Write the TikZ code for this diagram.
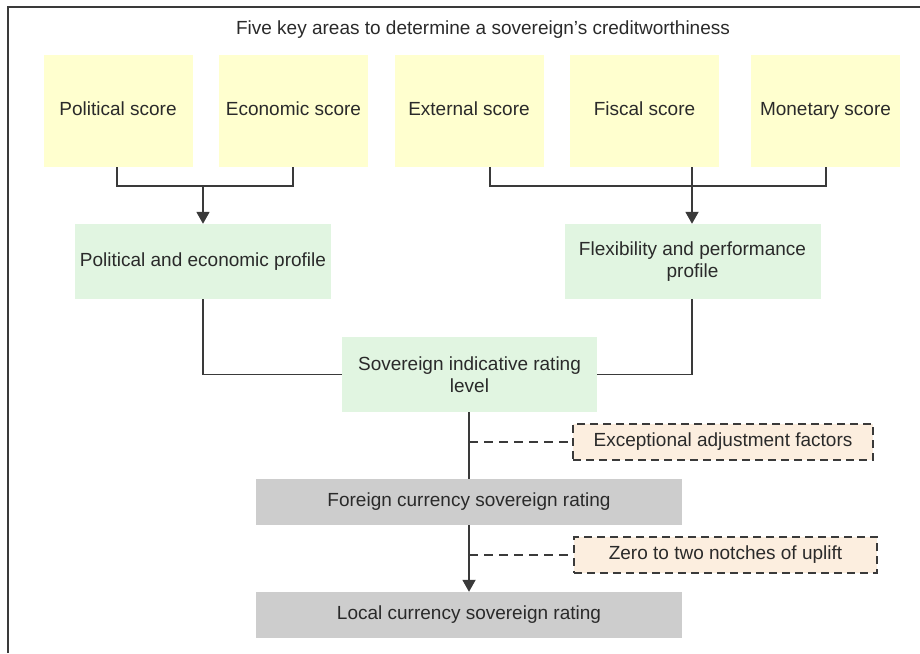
\documentclass[tikz,border=0pt]{standalone}
\usepackage{fontspec}
\setmainfont{Liberation Sans}
\usetikzlibrary{arrows.meta}
\definecolor{scorefill}{HTML}{FFFFCF}
\definecolor{profilefill}{HTML}{E1F5E1}
\definecolor{ratingfill}{HTML}{CDCDCD}
\definecolor{adjfill}{HTML}{FCEEDF}
\definecolor{ink}{HTML}{2A2A2A}
\definecolor{wire}{HTML}{3A3A3A}
\begin{document}
\begin{tikzpicture}[x=1pt,y=-1pt,
  every node/.style={font=\fontsize{19}{22}\selectfont, text=ink, inner sep=0pt, align=center},
  score/.style={fill=scorefill, minimum width=149pt, minimum height=112pt, text height=0.95em, text depth=0pt},
  profile/.style={fill=profilefill, minimum width=256pt, minimum height=75pt},
  rating/.style={fill=ratingfill, minimum width=426pt, minimum height=46pt},
  adjust/.style={fill=adjfill, draw=wire, line width=1.6pt, dash pattern=on 8pt off 5pt, minimum height=36pt},
  wireline/.style={draw=wire, line width=1.8pt},
  arrowline/.style={wireline, -{Triangle[width=13pt,length=12pt]}},
  dashline/.style={draw=wire, line width=1.6pt, dash pattern=on 9pt off 6pt}]
\useasboundingbox (0,0) rectangle (920,653);
% open frame: top and left edges
\draw[draw=wire, line width=1.6pt] (8,653) -- (8,7) -- (920,7);

\node (title) at (483,30) {Five key areas to determine a sovereign's creditworthiness};

% the five scores
\node[score] (pol) at (118,111) {Political score};
\node[score] (eco) at (293.5,111) {Economic score};
\node[score] (ext) at (469,111) {External score};
\node[score] (fis) at (644.5,111) {Fiscal score};
\node[score] (mon) at (825.5,111) {Monetary score};

% the two profiles
\node[profile] (pep) at (203,261.5) {Political and economic profile};
\node[profile] (fpp) at (692.5,261.5) {Flexibility and performance\\profile};

% indicative level and final ratings
\node[profile, minimum width=255pt] (sir) at (469.5,374.5) {Sovereign indicative rating\\level};
\node[rating] (fcr) at (469,502) {Foreign currency sovereign rating};
\node[rating] (lcr) at (469,615) {Local currency sovereign rating};

% adjustments
\node[adjust, minimum width=300pt] (exf) at (723,442) {Exceptional adjustment factors};
\node[adjust, minimum width=303pt] (ztn) at (725.5,555) {Zero to two notches of uplift};

% scores into profiles
\coordinate (m1) at (203,186);
\coordinate (m2) at (692,186);
\draw[wireline] (pol.south -| 117,0) |- (m1) -| (eco.south -| 293,0);
\draw[arrowline] (m1) -- (pep.north);
\draw[wireline] (ext.south -| 490,0) |- (m2) -| (mon.south -| 826,0);
\draw[arrowline] (fis.south -| m2) -- (fpp.north -| m2);

% profiles into indicative level
\draw[wireline] (pep.south) |- (sir.west);
\draw[wireline] (fpp.south -| m2) |- (sir.east);

% down to the ratings
\coordinate (spine) at (469,0);
\draw[wireline] (sir.south -| spine) -- (fcr.north -| spine);
\draw[arrowline] (fcr.south -| spine) -- (lcr.north -| spine);
\draw[dashline] (exf.west -| spine) -- (exf.west);
\draw[dashline] (ztn.west -| spine) -- (ztn.west);
\end{tikzpicture}
\end{document}
